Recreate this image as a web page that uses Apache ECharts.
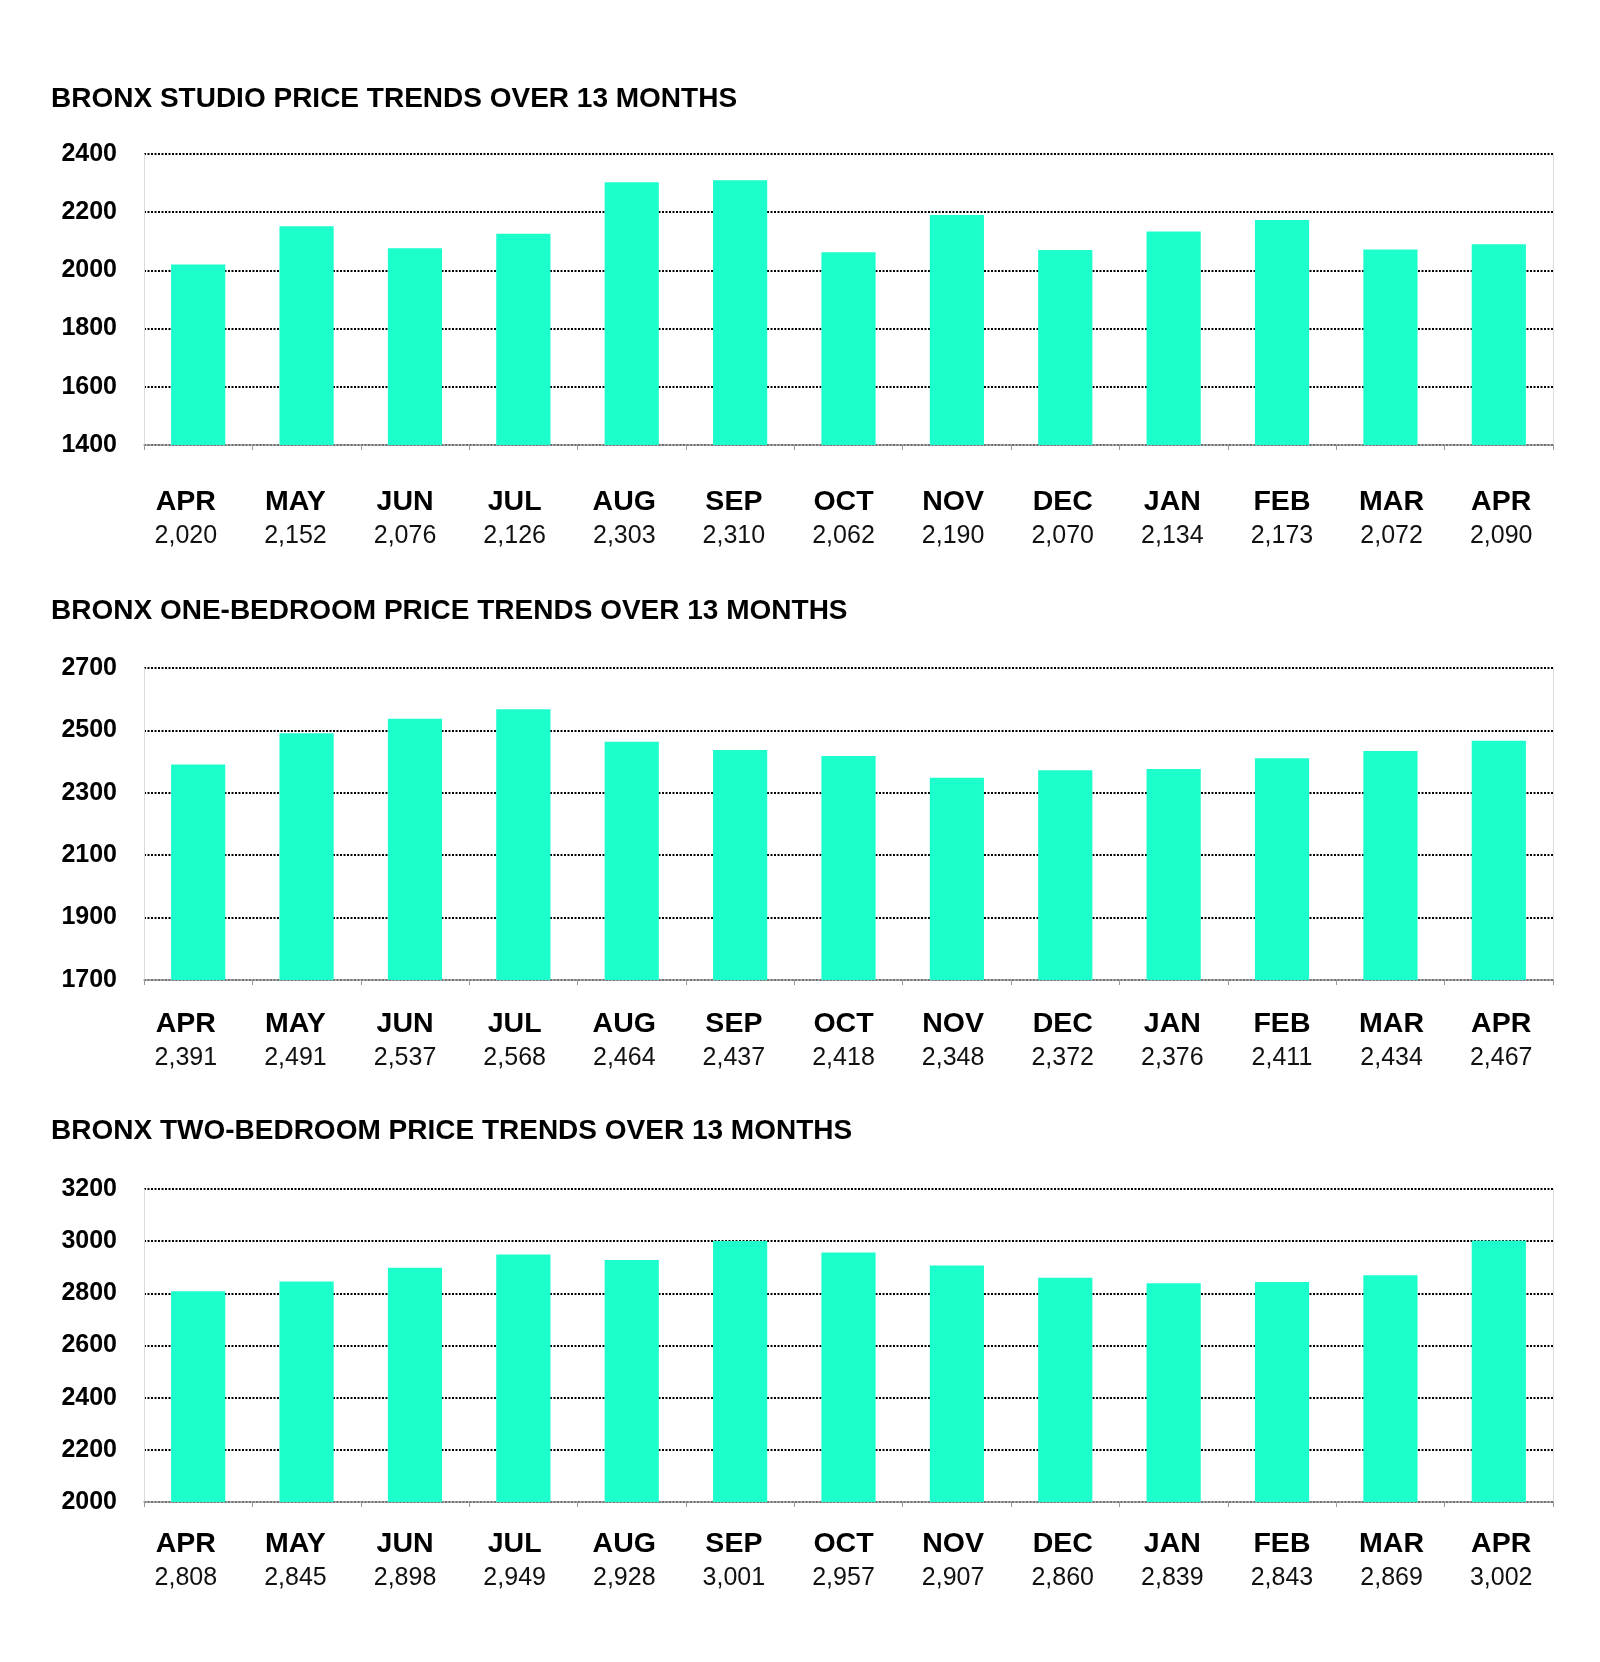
<!DOCTYPE html>
<html>
<head>
<meta charset="utf-8">
<script src="https://cdn.jsdelivr.net/npm/echarts@6/dist/echarts.min.js"></script>
<style>
html,body{margin:0;padding:0;background:#fff;}
#c{width:1600px;height:1662px;}
</style>
</head>
<body>
<div id="c"></div>
<script>
// ---- data ----
const months = ['APR','MAY','JUN','JUL','AUG','SEP','OCT','NOV','DEC','JAN','FEB','MAR','APR'];
const studioValues = [2020, 2152, 2076, 2126, 2303, 2310, 2062, 2190, 2070, 2134, 2173, 2072, 2090];
const oneBedValues = [2391, 2491, 2537, 2568, 2464, 2437, 2418, 2348, 2372, 2376, 2411, 2434, 2467];
const twoBedValues = [2808, 2845, 2898, 2949, 2928, 3001, 2957, 2907, 2860, 2839, 2843, 2869, 3002];
const titles = [
  'BRONX STUDIO PRICE TRENDS OVER 13 MONTHS',
  'BRONX ONE-BEDROOM PRICE TRENDS OVER 13 MONTHS',
  'BRONX TWO-BEDROOM PRICE TRENDS OVER 13 MONTHS'
];
const yMins = [1400, 1700, 2000];
const yMaxs = [2400, 2700, 3200];
const yStep = 200;

// ---- layout ----
const FONT = '"Liberation Sans", Arial, sans-serif';
const BAR = '#1CFFCC';
const panels = [
  {values: studioValues, titleTop: 85, top: 154, height: 291, labelMargin: 40},
  {values: oneBedValues, titleTop: 597, top: 668, height: 312, labelMargin: 27},
  {values: twoBedValues, titleTop: 1117, top: 1189, height: 313, labelMargin: 25}
];

const option = {
  backgroundColor: '#fff',
  animation: false,
  title: [], grid: [], xAxis: [], yAxis: [], series: []
};

panels.forEach((p, i) => {
  const vals = p.values;
  option.title.push({
    text: titles[i], left: 51, top: p.titleTop, padding: 0,
    textStyle: {fontFamily: FONT, fontWeight: 'bold', fontSize: 28, lineHeight: 28, color: '#000'}
  });
  // main plot grid
  option.grid.push({left: 144, right: 47, top: p.top, height: p.height});
  const g = option.grid.length - 1;
  option.xAxis.push({
    type: 'category', gridIndex: g, data: months,
    axisLine: {show: true, lineStyle: {color: '#9a9a9a', width: 1.5, type: i === 0 ? [2, 1] : 'solid'}},
    axisTick: {show: true, length: 5, lineStyle: {color: '#9a9a9a', width: 1}},
    axisLabel: {show: false},
    splitLine: {show: false}
  });
  const xMain = option.xAxis.length - 1;
  option.yAxis.push({
    type: 'value', gridIndex: g, min: yMins[i], max: yMaxs[i], interval: yStep,
    axisLine: {show: true, lineStyle: {color: '#dcdcdc', width: 1}},
    axisTick: {show: false},
    axisLabel: {margin: 27, fontFamily: FONT, fontWeight: 'bold', fontSize: 25, color: '#000',
      formatter: v => String(v)},
    splitLine: {show: true, lineStyle: {color: '#000', width: 2, type: [2, 1.5]}}
  });
  const yMain = option.yAxis.length - 1;
  option.yAxis.push({
    type: 'value', gridIndex: g, position: 'right', min: yMins[i], max: yMaxs[i], interval: yStep,
    axisLine: {show: true, onZero: false, lineStyle: {color: '#dcdcdc', width: 1}},
    axisTick: {show: false}, axisLabel: {show: false}, splitLine: {show: false}
  });
  option.series.push({
    type: 'bar', xAxisIndex: xMain, yAxisIndex: yMain, data: vals,
    barWidth: '50%', itemStyle: {color: BAR}
  });
  // label table grid (month + value text under the chart)
  option.grid.push({left: 131, right: 44, top: p.top, height: p.height});
  const gl = option.grid.length - 1;
  option.xAxis.push({
    type: 'category', gridIndex: gl, data: months,
    axisLine: {show: false}, axisTick: {show: false}, splitLine: {show: false},
    axisLabel: {
      margin: p.labelMargin, interval: 0,
      formatter: (v, idx) => '{m|' + v + '}\n{v|' + vals[idx].toLocaleString('en-US') + '}',
      rich: {
        m: {fontFamily: FONT, fontWeight: 'bold', fontSize: 28.5, lineHeight: 34, color: '#000', align: 'center'},
        v: {fontFamily: FONT, fontWeight: 'normal', fontSize: 25, lineHeight: 34, color: '#111', align: 'center'}
      }
    }
  });
  option.yAxis.push({
    type: 'value', gridIndex: gl, min: 0, max: 1, show: false
  });
});

const chart = echarts.init(document.getElementById('c'), null, {renderer: 'canvas'});
chart.setOption(option);
</script>
</body>
</html>
